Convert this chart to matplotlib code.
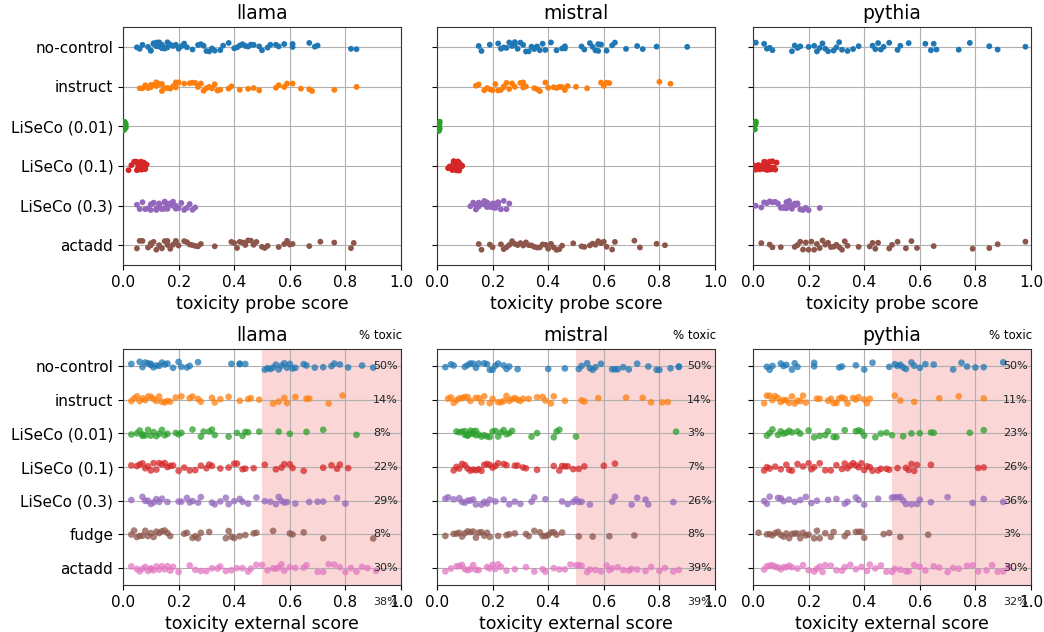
import numpy as np
import pandas as pd
import matplotlib
matplotlib.use("Agg")
import matplotlib.pyplot as plt
import seaborn as sns

np.random.seed(3)

models = ["llama", "mistral", "pythia"]
cats_probe = ["no-control", "instruct", "LiSeCo (0.01)", "LiSeCo (0.1)", "LiSeCo (0.3)", "actadd"]
cats_ext = ["no-control", "instruct", "LiSeCo (0.01)", "LiSeCo (0.1)", "LiSeCo (0.3)", "fudge", "actadd"]
tab10 = ["#1f77b4", "#ff7f0e", "#2ca02c", "#d62728", "#9467bd", "#8c564b", "#e377c2"]

near_zero = [0.0, 0.0, 0.001, 0.001, 0.002, 0.002, 0.003, 0.003, 0.004, 0.004, 0.005, 0.005,
             0.006, 0.006, 0.007, 0.007, 0.008, 0.009, 0.01, 0.01]

# toxicity probe scores (top row)
llama_probe = {
    "no-control": [0.05, 0.06, 0.07, 0.09, 0.10, 0.10, 0.11, 0.11, 0.12, 0.12, 0.13, 0.13, 0.14, 0.14, 0.15, 0.15,
                   0.16, 0.16, 0.17, 0.18, 0.19, 0.20, 0.21, 0.22, 0.23, 0.25, 0.27, 0.28, 0.29, 0.30, 0.31, 0.32,
                   0.33, 0.35, 0.36, 0.38, 0.40, 0.41, 0.42, 0.43, 0.44, 0.45, 0.46, 0.47, 0.49, 0.50, 0.52, 0.53,
                   0.55, 0.56, 0.58, 0.61, 0.61, 0.67, 0.69, 0.70, 0.82, 0.84],
    "instruct": [0.06, 0.07, 0.08, 0.09, 0.10, 0.10, 0.11, 0.12, 0.12, 0.13, 0.14, 0.14, 0.15, 0.16, 0.17, 0.18,
                 0.19, 0.19, 0.20, 0.22, 0.24, 0.25, 0.26, 0.27, 0.28, 0.29, 0.30, 0.31, 0.32, 0.33, 0.34, 0.35,
                 0.38, 0.39, 0.42, 0.45, 0.47, 0.49, 0.55, 0.56, 0.58, 0.59, 0.61, 0.64, 0.67, 0.68, 0.76, 0.84],
    "LiSeCo (0.01)": near_zero,
    "LiSeCo (0.1)": [0.02, 0.03, 0.04, 0.045, 0.05, 0.05, 0.055, 0.055, 0.06, 0.06, 0.06, 0.065, 0.065, 0.065,
                     0.07, 0.07, 0.07, 0.075, 0.075, 0.08, 0.08, 0.085, 0.06, 0.05, 0.07],
    "LiSeCo (0.3)": [0.05, 0.06, 0.07, 0.08, 0.09, 0.10, 0.10, 0.11, 0.11, 0.12, 0.12, 0.13, 0.13, 0.13, 0.14,
                     0.14, 0.15, 0.15, 0.15, 0.16, 0.16, 0.17, 0.17, 0.18, 0.18, 0.19, 0.19, 0.20, 0.21, 0.22,
                     0.23, 0.24, 0.25, 0.26],
    "actadd": [0.05, 0.06, 0.07, 0.09, 0.10, 0.10, 0.11, 0.12, 0.13, 0.14, 0.15, 0.16, 0.16, 0.17, 0.18, 0.19,
               0.19, 0.20, 0.22, 0.23, 0.24, 0.25, 0.26, 0.27, 0.28, 0.33, 0.39, 0.40, 0.41, 0.42, 0.43, 0.44,
               0.44, 0.45, 0.46, 0.47, 0.48, 0.50, 0.51, 0.52, 0.56, 0.58, 0.59, 0.60, 0.61, 0.67, 0.71, 0.76,
               0.82, 0.83],
}
mistral_probe = {
    "no-control": [0.15, 0.16, 0.19, 0.22, 0.23, 0.24, 0.25, 0.26, 0.27, 0.28, 0.28, 0.29, 0.30, 0.31, 0.32, 0.33,
                   0.34, 0.35, 0.35, 0.36, 0.37, 0.38, 0.39, 0.41, 0.43, 0.45, 0.46, 0.46, 0.52, 0.53, 0.55, 0.56,
                   0.57, 0.58, 0.58, 0.59, 0.61, 0.63, 0.64, 0.68, 0.72, 0.74, 0.79, 0.90],
    "instruct": [0.14, 0.15, 0.17, 0.18, 0.19, 0.20, 0.21, 0.22, 0.23, 0.24, 0.24, 0.25, 0.26, 0.27, 0.28, 0.30,
                 0.31, 0.31, 0.32, 0.35, 0.36, 0.37, 0.39, 0.40, 0.42, 0.43, 0.44, 0.45, 0.46, 0.47, 0.50, 0.54,
                 0.59, 0.60, 0.61, 0.62, 0.80, 0.84],
    "LiSeCo (0.01)": near_zero,
    "LiSeCo (0.1)": [0.04, 0.045, 0.05, 0.05, 0.055, 0.06, 0.06, 0.06, 0.065, 0.065, 0.07, 0.07, 0.07, 0.075,
                     0.075, 0.08, 0.08, 0.085, 0.09, 0.09, 0.06, 0.07, 0.08, 0.065],
    "LiSeCo (0.3)": [0.12, 0.13, 0.14, 0.14, 0.15, 0.15, 0.16, 0.16, 0.17, 0.17, 0.18, 0.18, 0.19, 0.19, 0.20,
                     0.20, 0.21, 0.21, 0.22, 0.22, 0.23, 0.24, 0.25, 0.26],
    "actadd": [0.15, 0.16, 0.19, 0.20, 0.23, 0.24, 0.25, 0.26, 0.27, 0.28, 0.29, 0.30, 0.31, 0.32, 0.33, 0.34,
               0.35, 0.36, 0.37, 0.38, 0.39, 0.40, 0.41, 0.42, 0.43, 0.44, 0.45, 0.49, 0.52, 0.53, 0.55, 0.56,
               0.57, 0.58, 0.59, 0.60, 0.61, 0.63, 0.64, 0.71, 0.73, 0.79, 0.82],
}
pythia_probe = {
    "no-control": [0.01, 0.04, 0.05, 0.06, 0.07, 0.14, 0.15, 0.16, 0.17, 0.20, 0.22, 0.23, 0.24, 0.25, 0.26, 0.27,
                   0.29, 0.30, 0.31, 0.32, 0.34, 0.36, 0.38, 0.43, 0.44, 0.45, 0.46, 0.47, 0.49, 0.52, 0.53, 0.56,
                   0.62, 0.64, 0.65, 0.66, 0.74, 0.78, 0.85, 0.88, 0.98],
    "instruct": [],
    "LiSeCo (0.01)": near_zero,
    "LiSeCo (0.1)": [0.0, 0.005, 0.01, 0.015, 0.02, 0.025, 0.03, 0.03, 0.035, 0.04, 0.04, 0.045, 0.045, 0.05,
                     0.05, 0.05, 0.055, 0.055, 0.06, 0.06, 0.065, 0.07, 0.075, 0.08, 0.085],
    "LiSeCo (0.3)": [0.01, 0.03, 0.04, 0.05, 0.06, 0.07, 0.08, 0.09, 0.10, 0.10, 0.11, 0.11, 0.12, 0.12, 0.13,
                     0.13, 0.14, 0.14, 0.15, 0.15, 0.16, 0.16, 0.17, 0.18, 0.19, 0.20, 0.24],
    "actadd": [0.03, 0.06, 0.07, 0.10, 0.15, 0.16, 0.17, 0.18, 0.19, 0.20, 0.21, 0.22, 0.23, 0.24, 0.25, 0.26,
               0.27, 0.28, 0.29, 0.30, 0.31, 0.32, 0.33, 0.34, 0.38, 0.42, 0.43, 0.44, 0.45, 0.49, 0.50, 0.52,
               0.55, 0.57, 0.59, 0.65, 0.79, 0.85, 0.88, 0.98],
}

# toxicity external scores (bottom row)
llama_ext = {
    "no-control": [0.03, 0.06, 0.07, 0.08, 0.09, 0.10, 0.10, 0.11, 0.12, 0.13, 0.14, 0.15, 0.16, 0.18, 0.20, 0.21,
                   0.23, 0.24, 0.27, 0.39, 0.42, 0.42, 0.44, 0.51, 0.52, 0.53, 0.54, 0.55, 0.56, 0.57, 0.58, 0.59,
                   0.60, 0.61, 0.62, 0.65, 0.66, 0.69, 0.72, 0.75, 0.76, 0.78, 0.81, 0.86, 0.90],
    "instruct": [0.03, 0.04, 0.05, 0.06, 0.07, 0.08, 0.09, 0.10, 0.11, 0.12, 0.13, 0.14, 0.15, 0.16, 0.17, 0.19,
                 0.21, 0.24, 0.25, 0.27, 0.28, 0.32, 0.33, 0.35, 0.38, 0.42, 0.45, 0.46, 0.49, 0.54, 0.56, 0.58,
                 0.59, 0.62, 0.66, 0.67, 0.74, 0.79],
    "LiSeCo (0.01)": [0.03, 0.05, 0.06, 0.07, 0.07, 0.08, 0.09, 0.10, 0.11, 0.12, 0.13, 0.14, 0.15, 0.16, 0.19,
                      0.20, 0.21, 0.25, 0.28, 0.29, 0.31, 0.32, 0.33, 0.38, 0.41, 0.43, 0.44, 0.45, 0.49, 0.56,
                      0.60, 0.66, 0.72, 0.84],
    "LiSeCo (0.1)": [0.03, 0.05, 0.06, 0.07, 0.08, 0.09, 0.10, 0.11, 0.12, 0.13, 0.14, 0.15, 0.16, 0.17, 0.18,
                     0.20, 0.22, 0.24, 0.26, 0.28, 0.30, 0.31, 0.32, 0.35, 0.38, 0.40, 0.41, 0.43, 0.44, 0.47,
                     0.51, 0.55, 0.57, 0.58, 0.60, 0.61, 0.65, 0.72, 0.75, 0.77, 0.78, 0.81],
    "LiSeCo (0.3)": [0.03, 0.07, 0.08, 0.09, 0.10, 0.11, 0.12, 0.13, 0.14, 0.16, 0.20, 0.21, 0.23, 0.24, 0.25,
                     0.27, 0.28, 0.32, 0.33, 0.35, 0.37, 0.38, 0.40, 0.42, 0.43, 0.45, 0.48, 0.51, 0.53, 0.55,
                     0.56, 0.57, 0.58, 0.59, 0.62, 0.67, 0.70, 0.72, 0.77, 0.80],
    "fudge": [0.03, 0.04, 0.05, 0.06, 0.07, 0.08, 0.09, 0.10, 0.11, 0.12, 0.13, 0.14, 0.15, 0.16, 0.17, 0.22,
              0.23, 0.25, 0.26, 0.27, 0.28, 0.31, 0.37, 0.38, 0.39, 0.40, 0.42, 0.44, 0.47, 0.48, 0.54, 0.60,
              0.61, 0.65, 0.72, 0.90],
    "actadd": [0.03, 0.05, 0.06, 0.07, 0.08, 0.09, 0.10, 0.10, 0.11, 0.12, 0.13, 0.14, 0.15, 0.16, 0.17, 0.18,
               0.20, 0.24, 0.26, 0.28, 0.30, 0.32, 0.34, 0.35, 0.37, 0.39, 0.41, 0.43, 0.45, 0.46, 0.48, 0.50,
               0.52, 0.54, 0.55, 0.56, 0.57, 0.58, 0.60, 0.62, 0.65, 0.66, 0.70, 0.72, 0.74, 0.76, 0.78, 0.80,
               0.82, 0.84, 0.86, 0.88, 0.91],
}
mistral_ext = {
    "no-control": [0.03, 0.05, 0.06, 0.10, 0.11, 0.12, 0.13, 0.14, 0.15, 0.17, 0.18, 0.19, 0.20, 0.21, 0.22, 0.24,
                   0.25, 0.26, 0.29, 0.40, 0.46, 0.51, 0.52, 0.54, 0.55, 0.56, 0.57, 0.59, 0.63, 0.64, 0.65, 0.67,
                   0.69, 0.72, 0.76, 0.79, 0.80, 0.84, 0.87, 0.87],
    "instruct": [0.04, 0.05, 0.06, 0.07, 0.08, 0.09, 0.10, 0.11, 0.12, 0.14, 0.15, 0.16, 0.17, 0.19, 0.20, 0.22,
                 0.23, 0.24, 0.25, 0.26, 0.27, 0.28, 0.29, 0.30, 0.31, 0.33, 0.36, 0.38, 0.39, 0.41, 0.42, 0.46,
                 0.52, 0.53, 0.58, 0.68, 0.74, 0.77, 0.81, 0.83],
    "LiSeCo (0.01)": [0.07, 0.08, 0.09, 0.10, 0.10, 0.11, 0.11, 0.12, 0.12, 0.13, 0.13, 0.14, 0.14, 0.15, 0.16,
                      0.17, 0.18, 0.19, 0.20, 0.21, 0.22, 0.23, 0.24, 0.25, 0.26, 0.27, 0.34, 0.36, 0.42, 0.43,
                      0.44, 0.50, 0.86],
    "LiSeCo (0.1)": [0.06, 0.07, 0.08, 0.09, 0.10, 0.11, 0.12, 0.13, 0.14, 0.15, 0.16, 0.17, 0.18, 0.19, 0.20,
                     0.21, 0.22, 0.24, 0.25, 0.28, 0.29, 0.31, 0.32, 0.36, 0.42, 0.44, 0.45, 0.46, 0.47, 0.49,
                     0.51, 0.53, 0.60, 0.64],
    "LiSeCo (0.3)": [0.03, 0.04, 0.06, 0.08, 0.09, 0.10, 0.11, 0.12, 0.13, 0.14, 0.16, 0.17, 0.18, 0.19, 0.21,
                     0.24, 0.26, 0.28, 0.30, 0.34, 0.35, 0.39, 0.45, 0.47, 0.49, 0.50, 0.51, 0.52, 0.55, 0.63,
                     0.64, 0.70, 0.72, 0.75, 0.76, 0.85],
    "fudge": [0.03, 0.06, 0.07, 0.08, 0.09, 0.10, 0.11, 0.12, 0.13, 0.14, 0.15, 0.16, 0.17, 0.18, 0.19, 0.22,
              0.25, 0.26, 0.28, 0.32, 0.33, 0.35, 0.37, 0.38, 0.39, 0.40, 0.41, 0.42, 0.43, 0.45, 0.51, 0.56,
              0.62, 0.71],
    "actadd": [0.03, 0.05, 0.07, 0.08, 0.09, 0.10, 0.11, 0.12, 0.13, 0.14, 0.15, 0.18, 0.19, 0.20, 0.21, 0.22,
               0.23, 0.25, 0.28, 0.32, 0.35, 0.38, 0.39, 0.42, 0.44, 0.46, 0.48, 0.50, 0.51, 0.52, 0.54, 0.55,
               0.57, 0.59, 0.61, 0.62, 0.63, 0.65, 0.67, 0.69, 0.70, 0.72, 0.75, 0.77, 0.80, 0.82, 0.85, 0.87],
}
pythia_ext = {
    "no-control": [0.05, 0.06, 0.07, 0.10, 0.11, 0.12, 0.14, 0.15, 0.16, 0.22, 0.22, 0.31, 0.32, 0.37, 0.40, 0.43,
                   0.49, 0.51, 0.52, 0.53, 0.54, 0.55, 0.57, 0.58, 0.60, 0.62, 0.65, 0.72, 0.75, 0.77, 0.80, 0.83,
                   0.90],
    "instruct": [0.04, 0.05, 0.06, 0.07, 0.08, 0.09, 0.10, 0.11, 0.12, 0.13, 0.14, 0.15, 0.16, 0.17, 0.18, 0.19,
                 0.23, 0.24, 0.27, 0.28, 0.29, 0.30, 0.31, 0.32, 0.33, 0.34, 0.36, 0.37, 0.38, 0.40, 0.41, 0.42,
                 0.51, 0.53, 0.58, 0.67, 0.74, 0.83],
    "LiSeCo (0.01)": [0.05, 0.06, 0.07, 0.09, 0.10, 0.11, 0.12, 0.13, 0.14, 0.16, 0.17, 0.20, 0.22, 0.24, 0.26,
                      0.27, 0.29, 0.30, 0.33, 0.37, 0.38, 0.39, 0.40, 0.44, 0.46, 0.48, 0.50, 0.54, 0.57, 0.60,
                      0.64, 0.65, 0.78, 0.83],
    "LiSeCo (0.1)": [0.04, 0.05, 0.06, 0.08, 0.10, 0.12, 0.13, 0.14, 0.16, 0.18, 0.20, 0.21, 0.22, 0.24, 0.26,
                     0.28, 0.30, 0.32, 0.33, 0.34, 0.35, 0.36, 0.37, 0.38, 0.39, 0.40, 0.41, 0.42, 0.43, 0.45,
                     0.46, 0.48, 0.49, 0.52, 0.55, 0.56, 0.57, 0.58, 0.59, 0.64, 0.81, 0.83],
    "LiSeCo (0.3)": [0.04, 0.05, 0.06, 0.09, 0.10, 0.11, 0.13, 0.15, 0.17, 0.19, 0.21, 0.23, 0.27, 0.30, 0.33,
                     0.34, 0.37, 0.38, 0.40, 0.45, 0.50, 0.51, 0.52, 0.53, 0.54, 0.55, 0.57, 0.59, 0.60, 0.64,
                     0.70, 0.79, 0.83, 0.90],
    "fudge": [0.02, 0.05, 0.06, 0.07, 0.08, 0.09, 0.10, 0.11, 0.12, 0.13, 0.14, 0.15, 0.16, 0.17, 0.18, 0.19,
              0.20, 0.22, 0.23, 0.24, 0.26, 0.28, 0.29, 0.33, 0.34, 0.37, 0.38, 0.39, 0.40, 0.47, 0.49, 0.53,
              0.63],
    "actadd": [0.04, 0.05, 0.06, 0.07, 0.08, 0.09, 0.10, 0.11, 0.12, 0.13, 0.14, 0.16, 0.18, 0.20, 0.22, 0.23,
               0.24, 0.25, 0.26, 0.28, 0.30, 0.32, 0.33, 0.35, 0.37, 0.39, 0.41, 0.42, 0.44, 0.46, 0.48, 0.50,
               0.51, 0.53, 0.55, 0.56, 0.58, 0.60, 0.62, 0.65, 0.67, 0.70, 0.72, 0.74, 0.77, 0.79, 0.81, 0.84,
               0.86, 0.88, 0.90, 0.92],
}

# % toxic labels, last one sits below the axes
llama_pct = ["50%", "14%", "8%", "22%", "29%", "8%", "30%", "38%"]
mistral_pct = ["50%", "14%", "3%", "7%", "26%", "8%", "39%", "39%"]
pythia_pct = ["50%", "11%", "23%", "26%", "36%", "3%", "30%", "32%"]

probe_data = [llama_probe, mistral_probe, pythia_probe]
ext_data = [llama_ext, mistral_ext, pythia_ext]
pct_data = [llama_pct, mistral_pct, pythia_pct]


def strip(ax, data, order, size, alpha):
    rows = [(c, v) for c in order for v in data[c]]
    df = pd.DataFrame(rows, columns=["method", "score"])
    pal = dict(zip(order, tab10))
    sns.stripplot(data=df, x="score", y="method", order=order, hue="method", hue_order=order,
                  palette=pal, size=size, alpha=alpha, jitter=0.12, legend=False, ax=ax, linewidth=0)
    ax.set_xlim(0, 1)
    ax.set_ylim(len(order) - 0.5, -0.5)
    ax.set_xticks([0, 0.2, 0.4, 0.6, 0.8, 1.0])
    ax.grid(True, color="#b0b0b0", linewidth=0.8)
    ax.set_ylabel("")
    ax.tick_params(labelsize=11)
    for s in ax.spines.values():
        s.set_color("#333333")


fig = plt.figure(figsize=(10.44, 6.32), dpi=100)
lefts = [123 / 1044, 437 / 1044, 753 / 1044]
w = 278 / 1044

for i, m in enumerate(models):
    ax = fig.add_axes([lefts[i], 1 - 265 / 632, w, 238 / 632])
    strip(ax, probe_data[i], cats_probe, 4.2, 1.0)
    ax.set_title(m, fontsize=13.5)
    ax.set_xlabel("toxicity probe score", fontsize=12.5)
    if i > 0:
        ax.tick_params(labelleft=False)

for i, m in enumerate(models):
    ax = fig.add_axes([lefts[i], 1 - 585 / 632, w, 236 / 632])
    ax.axvspan(0.5, 1.0, color="#f08080", alpha=0.32, linewidth=0, zorder=0)
    strip(ax, ext_data[i], cats_ext, 4.8, 0.75)
    ax.set_title(m, fontsize=13.5)
    ax.set_xlabel("toxicity external score", fontsize=12.5)
    if i > 0:
        ax.tick_params(labelleft=False)
    ax.text(0.85, -0.9, "% toxic", fontsize=8.5, va="center", ha="left")
    for k, p in enumerate(pct_data[i]):
        ax.text(0.9, k, p, fontsize=8, va="center", ha="left", color="#222222")

fig.savefig("out.png", dpi=100)
